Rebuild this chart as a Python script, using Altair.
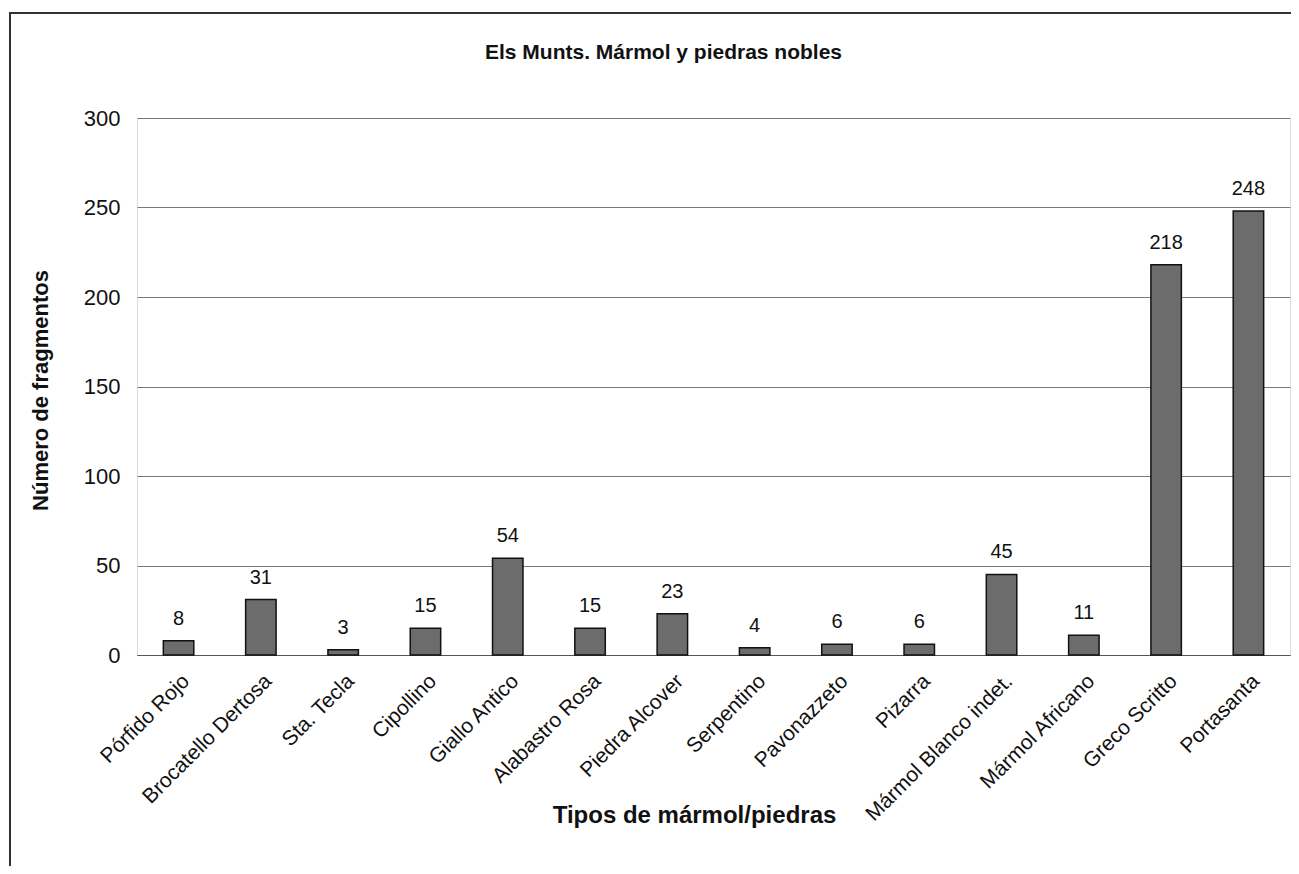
import altair as alt
import pandas as pd

categories = ["Pórfido Rojo", "Brocatello Dertosa", "Sta. Tecla", "Cipollino",
              "Giallo Antico", "Alabastro Rosa", "Piedra Alcover", "Serpentino",
              "Pavonazzeto", "Pizarra", "Mármol Blanco indet.", "Mármol Africano",
              "Greco Scritto", "Portasanta"]
values = [8, 31, 3, 15, 54, 15, 23, 4, 6, 6, 45, 11, 218, 248]
y_ticks = [0, 50, 100, 150, 200, 250, 300]

df = pd.DataFrame({"tipo": categories, "n": values})

FONT = "Liberation Sans"

x_enc = alt.X("tipo:N", sort=categories,
              scale=alt.Scale(paddingInner=0.63, paddingOuter=0.32),
              axis=alt.Axis(title="Tipos de mármol/piedras", labelAngle=-45,
                            labelAlign="right", labelBaseline="top",
                            labelFontSize=21, labelFont=FONT, labelColor="#111",
                            labelPadding=15, ticks=False, domain=True,
                            domainColor="#555", titleFontSize=24, titleFont=FONT,
                            titleFontWeight="bold", titleColor="#111",
                            titleX=557, titleY=160, titleBaseline="middle",
                            labelLimit=400))
y_enc = alt.Y("n:Q", scale=alt.Scale(domain=[0, 300], nice=False),
              axis=alt.Axis(title="Número de fragmentos", values=y_ticks,
                            labelFontSize=22, labelFont=FONT, labelColor="#111",
                            labelPadding=17, ticks=False, domain=False,
                            grid=True, gridColor="#7a7a7a", gridWidth=1,
                            titleFontSize=22, titleFont=FONT, titleFontWeight="bold",
                            titleColor="#111", titleX=-97, titleY=272,
                            titleBaseline="middle", titleAngle=-90))

base = alt.Chart(df)

bars = base.mark_bar(color="#6c6c6c", stroke="#111111", strokeWidth=1.5).encode(
    x=x_enc, y=y_enc)

labels = base.mark_text(baseline="bottom", dy=-12, fontSize=20, font=FONT,
                        color="#111").encode(
    x=alt.X("tipo:N", sort=categories), y="n:Q", text="n:Q")

frame = alt.Chart(df).mark_rect(fill=None, stroke="#333", strokeWidth=1.5).encode(
    x=alt.value(-127), x2=alt.value(1155),
    y=alt.value(-105), y2=alt.value(750))

chart = alt.layer(frame, bars, labels).properties(
    width=1153, height=537,
    title=alt.TitleParams("Els Munts. Mármol y piedras nobles", fontSize=21,
                          font=FONT, fontWeight="bold", color="#111",
                          offset=-51, dx=-50, anchor="middle"),
    autosize=alt.AutoSizeParams(type="none"),
    padding={"left": 129, "top": 110, "right": 1, "bottom": 211},
).configure_view(
    fill="#eeeeee", stroke="#888888", strokeWidth=1
).configure(background="white")

chart.save("out.html", embed_options={"renderer": "svg", "actions": False})
